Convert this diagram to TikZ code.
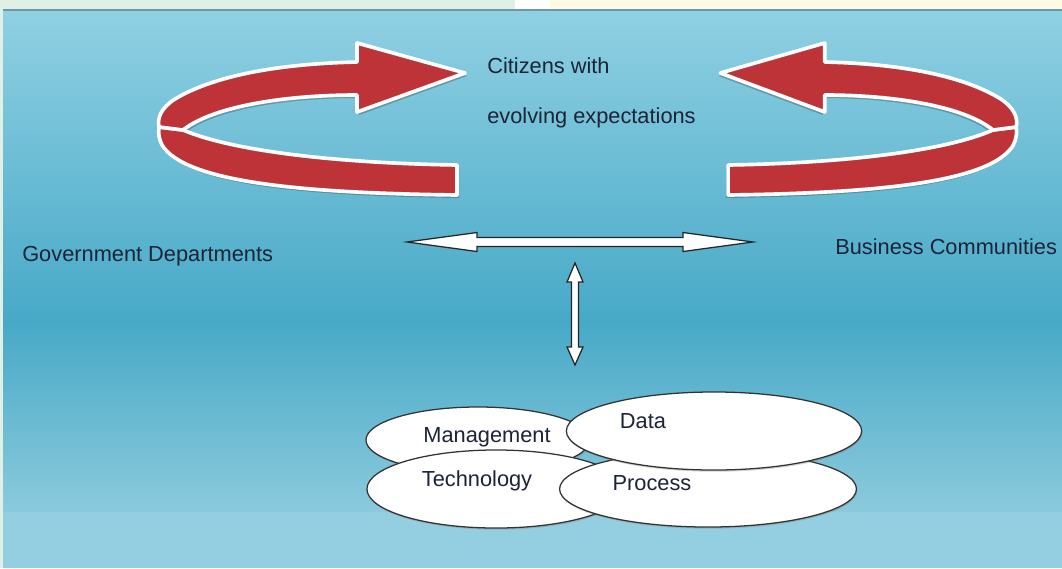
\documentclass[tikz,border=0pt]{standalone}
\usepackage{fontspec}
\setmainfont{Liberation Sans}
\usetikzlibrary{shapes.geometric,shadows,calc}
\definecolor{stripG}{HTML}{E1F0E6}
\definecolor{stripY}{HTML}{FFFAE3}
\definecolor{bgA}{HTML}{90D0E3}
\definecolor{bgB}{HTML}{47A9C7}
\definecolor{bgC}{HTML}{8BCADD}
\definecolor{bgD}{HTML}{94CFE1}
\definecolor{topline}{HTML}{6A9AA8}
\definecolor{arrowred}{HTML}{BD3337}
\definecolor{txt}{HTML}{1C2438}
\tikzset{
  redband/.style={fill=arrowred, draw=white, line width=2.6pt, line join=round},
  redshadow/.style={fill=black, opacity=0.22},
  whitearrow/.style={fill=white, draw=black!85, line width=0.9pt, line join=miter},
  blob/.style={ellipse, draw=black!80, line width=0.9pt, fill=white, inner sep=0pt,
    drop shadow={opacity=0.35, shadow xshift=0.6pt, shadow yshift=-1.2pt}},
  lbl/.style={text=txt, inner sep=0pt, font=\fontsize{15.5}{18}\selectfont},
}
\begin{document}
\begin{tikzpicture}[x=0.025cm, y=-0.025cm]
\useasboundingbox (0,0) rectangle (1062,568);
% top strip and frame
\fill[stripG] (0,0) rectangle (515,10);
\fill[white] (515,0) rectangle (550,10);
\fill[stripY] (550,0) rectangle (1062,10);
\fill[stripG] (0,10) rectangle (3,568);
% background
\shade[top color=bgA, bottom color=bgB] (3,10) rectangle (1062,322);
\shade[top color=bgB, bottom color=bgC] (3,321) rectangle (1062,512);
\fill[bgD] (3,512) rectangle (1062,568);
\draw[topline, line width=1.5pt] (3,10) -- (1062,10);

% red loop arrows
\foreach \sh/\sc in {0/1, 1170/-0.967}{
\begin{scope}[shift={(\sh,0)}, xscale=\sc]
  % shadows
  \begin{scope}[shift={(2,3)}]
  \fill[redshadow] (183,130) .. controls (230,150) and (330,163) .. (457,165)
     -- (457,195) .. controls (300,193) and (185,182) .. (162,145)
     .. controls (159,139) and (158,133) .. (159,127) -- cycle;
  \fill[redshadow] (465,73) -- (357,112) -- (357,95) .. controls (290,95) and (215,105) .. (183,130)
     -- (159,127) .. controls (157,118) and (161,108) .. (175,99)
     .. controls (210,78) and (270,64) .. (357,62) -- (357,43) -- cycle;
  \end{scope}
  % lower band
  \filldraw[redband] (183,130) .. controls (230,150) and (330,163) .. (457,165)
     -- (457,195) .. controls (300,193) and (185,182) .. (162,145)
     .. controls (159,139) and (158,133) .. (159,127) -- cycle;
  % upper band with head
  \filldraw[redband] (465,73) -- (357,112) -- (357,95) .. controls (290,95) and (215,105) .. (183,130)
     -- (159,127) .. controls (157,118) and (161,108) .. (175,99)
     .. controls (210,78) and (270,64) .. (357,62) -- (357,43) -- cycle;
\end{scope}
}

% labels
\node[lbl, anchor=west] (cit) at (487,66) {Citizens with};
\node[lbl, anchor=west] (evo) at (487,118) {evolving expectations};
\node[lbl, anchor=west] (gov) at (22,256) {Government Departments};
\node[lbl, anchor=west] (bus) at (835,247) {Business Communities};

% white double arrows
\coordinate (hl) at (407,242);
\coordinate (hr) at (753,242);
\draw[whitearrow] (hl) -- ($(hl)+(70,-9.5)$) -- ($(hl)+(70,-4.5)$) -- ($(hr)+(-70,-4.5)$)
  -- ($(hr)+(-70,-9.5)$) -- (hr) -- ($(hr)+(-70,9.5)$) -- ($(hr)+(-70,4.5)$)
  -- ($(hl)+(70,4.5)$) -- ($(hl)+(70,9.5)$) -- cycle;
\coordinate (vt) at (575,263);
\coordinate (vb) at (575,365);
\draw[whitearrow] (vt) -- ($(vt)+(8,19)$) -- ($(vt)+(3.5,19)$) -- ($(vb)+(3.5,-18)$)
  -- ($(vb)+(8,-18)$) -- (vb) -- ($(vb)+(-8,-18)$) -- ($(vb)+(-3.5,-18)$)
  -- ($(vt)+(-3.5,19)$) -- ($(vt)+(-8,19)$) -- cycle;

% ellipses
\node[blob, minimum width=5.6cm, minimum height=1.65cm] (mgmt) at (478,440) {};
\node[blob, minimum width=6.45cm, minimum height=1.95cm] (tech) at (496,489) {};
\node[blob, minimum width=7.42cm, minimum height=1.9cm] (proc) at (708,489) {};
\node[blob, minimum width=7.38cm, minimum height=1.95cm] (data) at (714,431) {};

\node[lbl] (tmgmt) at (487,437) {Management};
\node[lbl] (tdata) at (643,421) {Data};
\node[lbl] (ttech) at (477,481) {Technology};
\node[lbl] (tproc) at (652,483) {Process};
\end{tikzpicture}
\end{document}
